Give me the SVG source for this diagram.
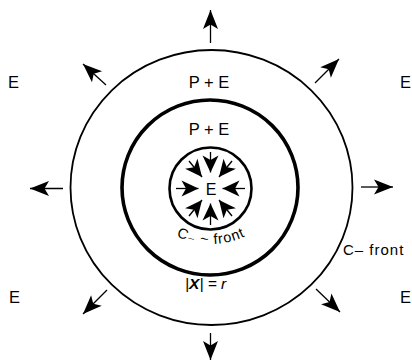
<svg xmlns="http://www.w3.org/2000/svg" width="412" height="362" viewBox="0 0 412 362">
  <style>
    .lbl { font-family: "Liberation Sans", Arial, "DejaVu Sans", sans-serif; fill: #000; }
    .ring { fill: none; stroke: #000; }
    .arr { stroke: #000; stroke-width: 1.3; fill: none; }
  </style>
  <defs>
    <marker id="headOut" markerUnits="userSpaceOnUse" viewBox="-21 -9 22 18" refX="0" refY="0" markerWidth="22" markerHeight="18" orient="auto" overflow="visible">
      <path d="M0,0 L-19,-7.5 L-14.5,0 L-19,7.5 Z" fill="#000"/>
    </marker>
    <marker id="headIn" markerUnits="userSpaceOnUse" viewBox="-19 -9 20 18" refX="0" refY="0" markerWidth="20" markerHeight="18" orient="auto" overflow="visible">
      <path d="M0,0 L-17,-8 L-12.5,0 L-17,8 Z" fill="#000"/>
    </marker>
    <path id="cfrontArc" d="M131,164 A80,80 0 0 0 291,164"/>
  </defs>

  <g id="outer-front">
    <ellipse class="ring" cx="211.5" cy="187.5" rx="141" ry="137.5" stroke-width="1.8"/>
  </g>
  <g id="middle-front">
    <ellipse class="ring" cx="210" cy="187.5" rx="88" ry="87.5" stroke-width="3.6"/>
  </g>
  <g id="inner-front">
    <circle class="ring" cx="210.5" cy="188.5" r="41" stroke-width="2.6"/>
  </g>

  <g id="connectors">
    <line class="arr" x1="210.5" y1="43" x2="210.5" y2="10" marker-end="url(#headOut)"/>
    <line class="arr" x1="210.5" y1="333" x2="210.5" y2="360" marker-end="url(#headOut)"/>
    <line class="arr" x1="63" y1="188.5" x2="30" y2="188.5" marker-end="url(#headOut)"/>
    <line class="arr" x1="361" y1="187" x2="393" y2="187" marker-end="url(#headOut)"/>
    <line class="arr" x1="106" y1="85" x2="83" y2="64" marker-end="url(#headOut)"/>
    <line class="arr" x1="315" y1="83" x2="339" y2="59" marker-end="url(#headOut)"/>
    <line class="arr" x1="107" y1="290" x2="83" y2="314" marker-end="url(#headOut)"/>
    <line class="arr" x1="316" y1="289" x2="340" y2="312" marker-end="url(#headOut)"/>
    <line class="arr" x1="210.5" y1="152" x2="210.5" y2="172.5" marker-end="url(#headIn)"/>
    <line class="arr" x1="210.5" y1="225" x2="210.5" y2="203.5" marker-end="url(#headIn)"/>
    <line class="arr" x1="176" y1="188.5" x2="198.5" y2="188.5" marker-end="url(#headIn)"/>
    <line class="arr" x1="245" y1="188.5" x2="222.5" y2="188.5" marker-end="url(#headIn)"/>
    <line class="arr" x1="189" y1="161" x2="202" y2="177" marker-end="url(#headIn)"/>
    <line class="arr" x1="232" y1="161" x2="219" y2="177" marker-end="url(#headIn)"/>
    <line class="arr" x1="189" y1="216" x2="202" y2="200" marker-end="url(#headIn)"/>
    <line class="arr" x1="232" y1="216" x2="219" y2="200" marker-end="url(#headIn)"/>
  </g>

  <g id="labels">
    <text class="lbl" x="8" y="88" font-size="16.5">E</text>
    <text class="lbl" x="400" y="88" font-size="16.5">E</text>
    <text class="lbl" x="9" y="303" font-size="16.5">E</text>
    <text class="lbl" x="400" y="303" font-size="16.5">E</text>
    <text class="lbl" x="209" y="88" font-size="16.5" text-anchor="middle">P + E</text>
    <text class="lbl" x="209" y="135" font-size="16.5" text-anchor="middle">P + E</text>
    <text class="lbl" x="211" y="194.5" font-size="16" text-anchor="middle">E</text>
    <text class="lbl" font-size="14.5" letter-spacing="0.8"><textPath href="#cfrontArc" startOffset="50%" text-anchor="middle">C₋ ~ front</textPath></text>
    <text class="lbl" x="343" y="255" font-size="15" letter-spacing="1">C– front</text>
    <text class="lbl" x="185" y="289" font-size="15.5" font-style="italic">|<tspan font-weight="bold">X</tspan>| = r</text>
  </g>
</svg>
